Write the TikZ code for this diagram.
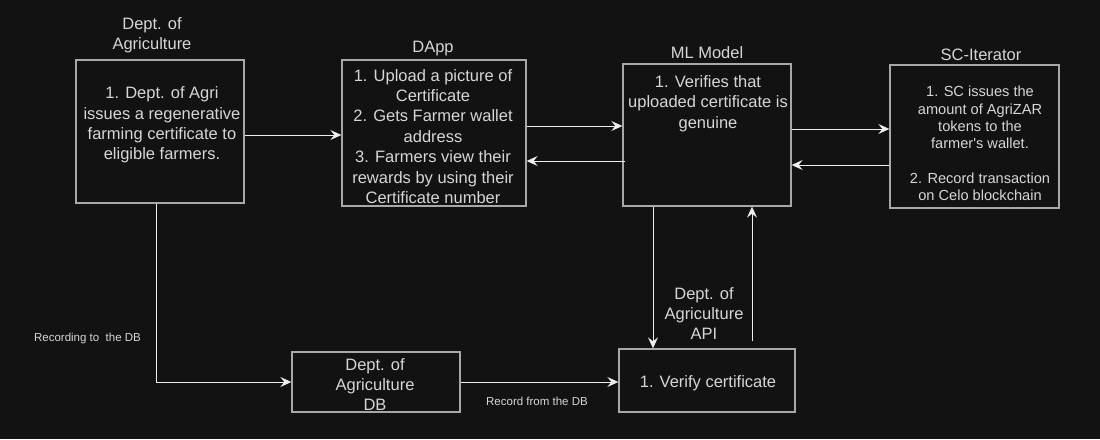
\documentclass[tikz,border=0pt]{standalone}
\usepackage{fontspec}
\setmainfont{Liberation Sans}
\usetikzlibrary{arrows.meta}
\definecolor{bg}{HTML}{121212}
\definecolor{boxline}{HTML}{A8A8A8}
\definecolor{txt}{HTML}{D6D6D6}
\definecolor{wire}{HTML}{EDEDED}
\tikzset{
  box/.style={draw=boxline, fill=bg, line width=1.3pt, inner sep=0pt, anchor=center},
  bigtxt/.style={text=txt, align=center, inner sep=0pt, font=\fontsize{16.5}{20.4}\selectfont},
  midtxt/.style={text=txt, align=center, inner sep=0pt, font=\fontsize{14.6}{17.3}\selectfont},
  smalltxt/.style={text=txt, align=center, inner sep=0pt, font=\fontsize{11.5}{14}\selectfont},
  wireline/.style={draw=wire, line width=1pt},
  arr/.style={wireline, -{Stealth[length=11pt, width=10pt, inset=4pt]}}
}
\begin{document}
\begin{tikzpicture}[x=1pt, y=-1pt]
\fill[bg] (0,0) rectangle (1100,439);
\useasboundingbox (0,0) rectangle (1100,439);

% boxes
\node[box, minimum width=168pt, minimum height=143pt] (dept) at (160,131.5) {};
\node[box, minimum width=184pt, minimum height=146pt] (dapp) at (434,133) {};
\node[box, minimum width=168pt, minimum height=142pt] (ml) at (707,135) {};
\node[box, minimum width=169pt, minimum height=143pt] (sc) at (974.5,136.5) {};
\node[box, minimum width=168pt, minimum height=60pt] (db) at (376,382) {};
\node[box, minimum width=176pt, minimum height=63pt] (ver) at (707,380.5) {};

% titles
\node[bigtxt] (deptT) at (152,35) {Dept. of\\Agriculture};
\node[bigtxt] (dappT) at (433,48.5) {DApp};
\node[bigtxt] (mlT) at (707,52.5) {ML Model};
\node[bigtxt] (scT) at (981,54.5) {SC-Iterator};

% box texts
\node[bigtxt] (deptX) at (162,125) {1. Dept. of Agri\\issues a regenerative\\farming certificate to\\eligible farmers.};
\node[bigtxt] (dappX) at (433,136.5) {1. Upload a picture of\\Certificate\\2. Gets Farmer wallet\\address\\3. Farmers view their\\rewards by using their\\Certificate number};
\node[bigtxt] (mlX) at (708,103.5) {1. Verifies that\\uploaded certificate is\\genuine};
\node[midtxt] (scX) at (980,143.5) {1. SC issues the\\amount of AgriZAR\\tokens to the\\farmer\textquotesingle s wallet.\\[17.3pt]2. Record transaction\\on Celo blockchain};
\node[bigtxt] (dbX) at (375,384.5) {Dept. of\\Agriculture\\DB};
\node[bigtxt] (verX) at (708,383.5) {1. Verify certificate};

% labels
\node[smalltxt] (lrec) at (87.5,339) {Recording to~ the DB};
\node[smalltxt] (lfrom) at (537,401) {Record from the DB};
\node[bigtxt] (lapi) at (704,313.5) {Dept. of\\Agriculture\\API};

% connectors
\coordinate (a0) at ([yshift=-3.5pt]dept.east);
\draw[arr] (a0) -- (a0 -| dapp.west);
\coordinate (a1) at ([yshift=7pt]dapp.east);
\draw[arr] (a1) -- (a1 -| ml.west);
\coordinate (a2) at ([yshift=-26pt]ml.west);
\draw[arr] ([xshift=3pt]a2) -- (a2 -| dapp.east);
\coordinate (a3) at ([yshift=6pt]ml.east);
\draw[arr] (a3) -- (a3 -| sc.west);
\coordinate (a4) at ([yshift=-30pt]ml.east);
\draw[arr] (a4 -| sc.west) -- (a4);
\coordinate (a5) at ([xshift=-4pt]dept.south);
\draw[arr] (a5) |- (db.west);
\draw[arr] (db.east) -- (db.east -| ver.west);
\coordinate (a6) at ([xshift=-54pt]ml.south);
\draw[arr] (a6) -- (a6 |- ver.north);
\coordinate (a7) at ([xshift=45pt]ml.south);
\coordinate (vtop) at ([yshift=7pt]ver.north);
\draw[arr] (a7 |- vtop) -- (a7);
\end{tikzpicture}
\end{document}
